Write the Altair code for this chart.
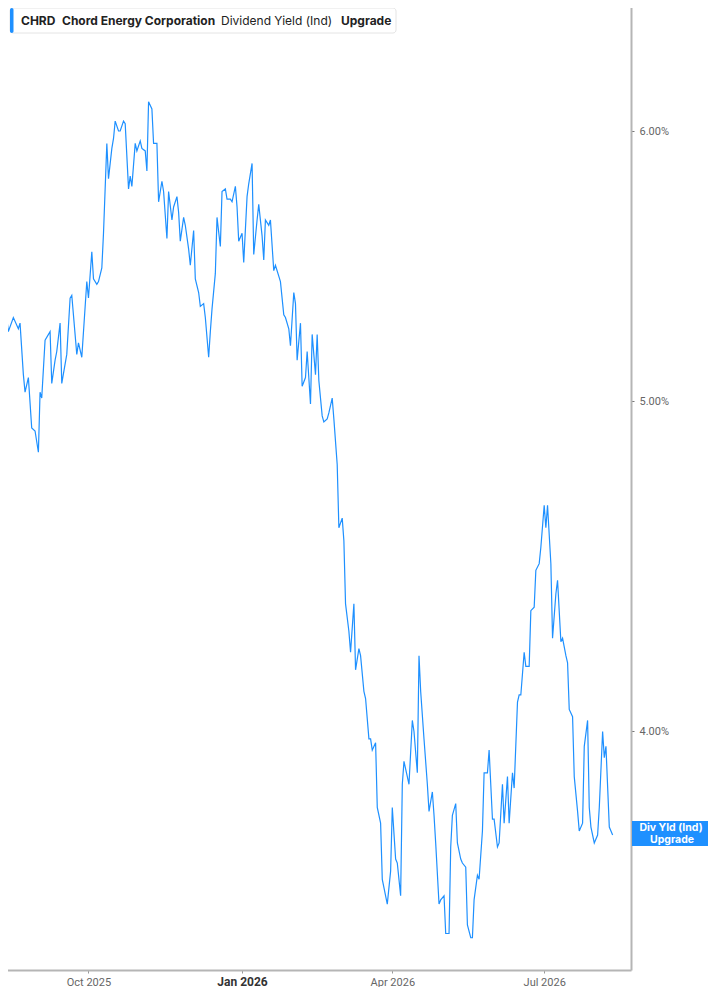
import altair as alt
import pandas as pd

dates = [
    "2025-08-09", "2025-08-10", "2025-08-11", "2025-08-14", "2025-08-17", "2025-08-20", "2025-08-21",
    "2025-08-23", "2025-08-24", "2025-08-26", "2025-08-28", "2025-08-30", "2025-09-01", "2025-09-02",
    "2025-09-03", "2025-09-05", "2025-09-08", "2025-09-09", "2025-09-11", "2025-09-12", "2025-09-14",
    "2025-09-15", "2025-09-18", "2025-09-20", "2025-09-21", "2025-09-24", "2025-09-25", "2025-09-27",
    "2025-09-30", "2025-10-01", "2025-10-03",
    "2025-10-04", "2025-10-06", "2025-10-07", "2025-10-09", "2025-10-10", "2025-10-12", "2025-10-13",
    "2025-10-15", "2025-10-16", "2025-10-17", "2025-10-19", "2025-10-20", "2025-10-22", "2025-10-23",
    "2025-10-25", "2025-10-26", "2025-10-27", "2025-10-29", "2025-10-30", "2025-11-01", "2025-11-02",
    "2025-11-04", "2025-11-05", "2025-11-06", "2025-11-08", "2025-11-09", "2025-11-11", "2025-11-12",
    "2025-11-14", "2025-11-15", "2025-11-17", "2025-11-18", "2025-11-20", "2025-11-21", "2025-11-23",
    "2025-11-24", "2025-11-25", "2025-11-27", "2025-11-28", "2025-11-30", "2025-12-01", "2025-12-03",
    "2025-12-04", "2025-12-06", "2025-12-07", "2025-12-09", "2025-12-10", "2025-12-12", "2025-12-13",
    "2025-12-14", "2025-12-16", "2025-12-17", "2025-12-19", "2025-12-20", "2025-12-22", "2025-12-23",
    "2025-12-25", "2025-12-26", "2025-12-28", "2025-12-29", "2025-12-30", "2026-01-01", "2026-01-02",
    "2026-01-04", "2026-01-05", "2026-01-07", "2026-01-08", "2026-01-10", "2026-01-11", "2026-01-13",
    "2026-01-14", "2026-01-15", "2026-01-17", "2026-01-18", "2026-01-20", "2026-01-21", "2026-01-23",
    "2026-01-24", "2026-01-26", "2026-01-27", "2026-01-29", "2026-01-30", "2026-02-01", "2026-02-02",
    "2026-02-03", "2026-02-05",
    "2026-02-06", "2026-02-08", "2026-02-09", "2026-02-11", "2026-02-12", "2026-02-14", "2026-02-15",
    "2026-02-16", "2026-02-18", "2026-02-19", "2026-02-21", "2026-02-22", "2026-02-24", "2026-02-25",
    "2026-02-27", "2026-02-28", "2026-03-02", "2026-03-03", "2026-03-04", "2026-03-06", "2026-03-07",
    "2026-03-09", "2026-03-10", "2026-03-12", "2026-03-13", "2026-03-15", "2026-03-16", "2026-03-18",
    "2026-03-19", "2026-03-20", "2026-03-22", "2026-03-23", "2026-03-25", "2026-03-26", "2026-03-28",
    "2026-03-29", "2026-03-31", "2026-04-01", "2026-04-03", "2026-04-04", "2026-04-06", "2026-04-07",
    "2026-04-08", "2026-04-10", "2026-04-11", "2026-04-13", "2026-04-14", "2026-04-16", "2026-04-17",
    "2026-04-18", "2026-04-20", "2026-04-22", "2026-04-23", "2026-04-25", "2026-04-26", "2026-04-27",
    "2026-04-29", "2026-04-30", "2026-05-02", "2026-05-03", "2026-05-05", "2026-05-06", "2026-05-07",
    "2026-05-09", "2026-05-10", "2026-05-12", "2026-05-13", "2026-05-15", "2026-05-16", "2026-05-18",
    "2026-05-19", "2026-05-20", "2026-05-22", "2026-05-23", "2026-05-25", "2026-05-26", "2026-05-28",
    "2026-05-29", "2026-05-31", "2026-06-01", "2026-06-03", "2026-06-04", "2026-06-06", "2026-06-07",
    "2026-06-09", "2026-06-10", "2026-06-12", "2026-06-13", "2026-06-15", "2026-06-16", "2026-06-17",
    "2026-06-19", "2026-06-20", "2026-06-22", "2026-06-23", "2026-06-25", "2026-06-26", "2026-06-28",
    "2026-06-29", "2026-07-01", "2026-07-02", "2026-07-03", "2026-07-05", "2026-07-06", "2026-07-08",
    "2026-07-09", "2026-07-11", "2026-07-12", "2026-07-14", "2026-07-15", "2026-07-16", "2026-07-18",
    "2026-07-19", "2026-07-21", "2026-07-22", "2026-07-24", "2026-07-25", "2026-07-27", "2026-07-28",
    "2026-07-29", "2026-07-31", "2026-08-02", "2026-08-03", "2026-08-05", "2026-08-06", "2026-08-07",
    "2026-08-09", "2026-08-11",
]

yields = [
    5.42, 5.43, 5.39, 5.24, 5.29, 5.25, 5.27,
    5.09, 5.03, 5.08, 4.91, 4.90, 4.83, 5.03,
    5.01, 5.21, 5.24, 5.06, 5.14, 5.17, 5.27,
    5.06, 5.16, 5.36, 5.37, 5.16, 5.20, 5.15,
    5.42, 5.36, 5.53,
    5.43, 5.41, 5.42, 5.47, 5.60, 5.95, 5.81,
    5.93, 5.97, 6.04, 6.00, 6.00, 6.04, 6.03,
    5.77, 5.82, 5.78, 5.95, 5.92, 5.96, 5.93,
    5.92, 5.84, 6.12, 6.09, 5.95, 5.95, 5.72,
    5.80, 5.76, 5.58, 5.76, 5.65, 5.70, 5.74,
    5.68, 5.57, 5.66, 5.63, 5.54, 5.48, 5.61,
    5.43, 5.38, 5.33, 5.34, 5.29, 5.15, 5.24,
    5.32, 5.45, 5.66, 5.55, 5.76, 5.77, 5.73,
    5.73, 5.72, 5.78, 5.70, 5.57, 5.60, 5.49,
    5.74, 5.79, 5.87, 5.52, 5.65, 5.71, 5.59,
    5.50, 5.65, 5.63, 5.65, 5.46, 5.48, 5.44,
    5.42, 5.30, 5.29, 5.25, 5.19, 5.38, 5.34,
    5.14, 5.27,
    5.05, 5.08, 5.17, 4.99, 5.23, 5.09, 5.23,
    5.07, 4.95, 4.93, 4.94, 4.96, 5.01, 4.94,
    4.79, 4.59, 4.62, 4.55, 4.36, 4.28, 4.22,
    4.36, 4.17, 4.23, 4.21, 4.11, 4.09, 3.98,
    3.98, 3.95, 3.97, 3.80, 3.76, 3.62, 3.58,
    3.56, 3.64, 3.80, 3.67, 3.66, 3.58, 3.86,
    3.92, 3.88, 3.86, 4.03, 4.00, 3.89, 4.21,
    4.11, 3.98, 3.86, 3.79, 3.84, 3.78, 3.71,
    3.56, 3.57, 3.58, 3.49, 3.49, 3.70, 3.78,
    3.81, 3.71, 3.67, 3.66, 3.65, 3.51, 3.48,
    3.48, 3.57, 3.63, 3.62, 3.74, 3.89, 3.89,
    3.95, 3.77, 3.77, 3.70, 3.71, 3.86, 3.76,
    3.88, 3.76, 3.89, 3.85, 4.08, 4.10, 4.10,
    4.22, 4.18, 4.18, 4.34, 4.35, 4.46, 4.48,
    4.53, 4.66, 4.59, 4.66, 4.48, 4.26, 4.39,
    4.43, 4.25, 4.26, 4.21, 4.19, 4.06, 4.04,
    3.88, 3.79, 3.74, 3.76, 3.96, 4.03, 3.80,
    3.75, 3.71, 3.73, 3.80, 4.00, 3.93, 3.96,
    3.75, 3.73,
]

y_ticks = [4, 5, 6]
x_ticks = [(2025, 10), (2026, 1), (2026, 4), (2026, 7)]

header_texts = ["CHRD", "Chord Energy Corporation", "Dividend Yield (Ind)", "Upgrade"]
tag_texts = ["Div Yld (Ind)", "Upgrade"]

df = pd.DataFrame({"date": dates, "yld": yields})

BLUE = "#1e90ff"
W, H = 631, 970

line = alt.Chart(df).mark_line(color=BLUE, strokeWidth=1.2, clip=True).encode(
    x=alt.X(
        "date:T",
        scale=alt.Scale(
            type="utc",
            domain=[
                alt.DateTime(year=2025, month=8, date=9, utc=True),
                alt.DateTime(year=2026, month=8, date=22, utc=True),
            ],
        ),
        axis=alt.Axis(
            title=None,
            values=[alt.DateTime(year=y, month=m, date=1, utc=True) for y, m in x_ticks],
            format="%b %Y",
            grid=False,
            domainColor="#b5b5b5",
            domainWidth=2,
            tickColor="#999999",
            tickSize=3,
            labelPadding=3,
            labelFont="Roboto",
            labelFontSize=alt.expr("utcmonth(datum.value)==0 ? 12 : 11"),
            labelFontWeight=alt.expr("utcmonth(datum.value)==0 ? 'bold' : 'normal'"),
            labelColor=alt.expr("utcmonth(datum.value)==0 ? '#333333' : '#666666'"),
        ),
    ),
    y=alt.Y(
        "yld:Q",
        scale=alt.Scale(type="log", domain=[3.405, 6.555]),
        axis=alt.Axis(
            title=None,
            orient="right",
            values=y_ticks,
            labelExpr="format(datum.value, '.2f') + '%'",
            grid=False,
            domainColor="#b5b5b5",
            domainWidth=2,
            tickColor="#777777",
            tickSize=3,
            labelPadding=5,
            labelFont="Roboto",
            labelFontSize=11,
            labelColor="#666666",
        ),
    ),
)

one = alt.Data(values=[{"k": 1}])

header_box = alt.Chart(one).mark_rect(
    fill="white", stroke="#e4e4e4", strokeWidth=1, cornerRadius=3
).encode(x=alt.value(10), x2=alt.value(396), y=alt.value(8), y2=alt.value(33))

header_bar = alt.Chart(one).mark_rect(fill=BLUE, cornerRadius=2).encode(
    x=alt.value(10), x2=alt.value(13.5), y=alt.value(8), y2=alt.value(33)
)

hx = [21, 62, 221, 341]
hw = ["bold", "bold", "normal", "bold"]
header_layers = []
for t, xx, fw in zip(header_texts, hx, hw):
    header_layers.append(
        alt.Chart(one).mark_text(
            text=t, align="left", baseline="middle", font="Inter", fontSize=12,
            fontWeight=fw, color="#222222"
        ).encode(x=alt.value(xx), y=alt.value(21))
    )

tag_box = alt.Chart(one).mark_rect(fill=BLUE).encode(
    x=alt.value(632), x2=alt.value(708), y=alt.value(821), y2=alt.value(846)
)
tag_layers = [
    alt.Chart(one).mark_text(
        text=tag_texts[0], align="center", baseline="middle", font="Inter",
        fontSize=10.5, fontWeight="bold", color="white"
    ).encode(x=alt.value(671), y=alt.value(827.5)),
    alt.Chart(one).mark_text(
        text=tag_texts[1], align="center", baseline="middle", font="Inter",
        fontSize=10.5, fontWeight="bold", color="white"
    ).encode(x=alt.value(672), y=alt.value(839.5)),
]

chart = alt.layer(
    line, header_box, header_bar, *header_layers, tag_box, *tag_layers
).properties(
    width=W, height=H, padding={"left": -8, "top": -8, "right": 0, "bottom": 0}
).configure_view(stroke=None)

chart.save("out.html", embed_options={"renderer": "svg", "actions": False})
